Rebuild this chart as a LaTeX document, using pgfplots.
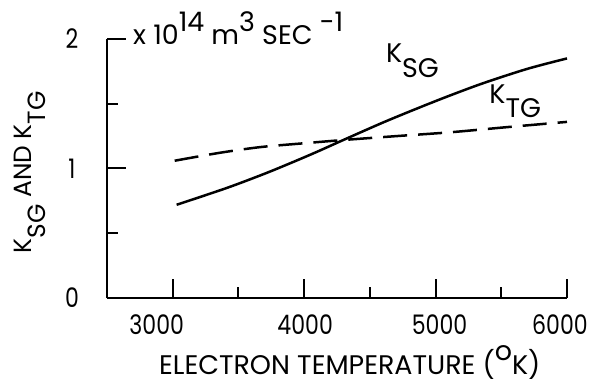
\documentclass[border=0pt]{standalone}
\usepackage{fontspec}
\setmainfont{Poppins}
\newcommand{\tickfont}{\addfontfeature{FakeStretch=0.82}}
\usepackage{pgfplots}
\pgfplotsset{compat=1.18}
\newcommand{\sub}[1]{\raisebox{-0.55em}{#1}}
\newcommand{\sups}[1]{\raisebox{0.5em}{#1}}
\newcommand{\tl}[2]{\tickfont\kern#1bp #2\kern-#1bp}
\begin{document}
\fontsize{27}{32}\selectfont
\begin{tikzpicture}
\useasboundingbox (-107bp,-87bp) rectangle (485bp,298bp);
\begin{axis}[
 at={(0,0)}, anchor=south west,
 width=460bp, height=259bp, scale only axis,
 xmin=2500, xmax=6000, ymin=0, ymax=2,
 axis x line=bottom, axis y line=left,
 axis line style={-, line width=2.5bp},
 xtick={3000,4000,5000,6000}, minor xtick={3500,4500,5500},
 ytick={0,1,2}, minor ytick={0.5,1.5},
 xticklabels={\tl{-16}{3000},\tl{1}{4000},\tl{4}{5000},\tl{-7}{6000}},
 yticklabels={\tickfont 0,\tickfont 1,\tickfont 2},
 tick align=inside,
 major tick length=19bp, minor tick length=11bp,
 tick style={line width=2bp, black},
 xticklabel style={anchor=center, yshift=-27bp},
 yticklabel style={anchor=center, xshift=-35bp},
 clip=false,
]
\addplot[black, line width=2.5bp, smooth] coordinates {
 (3030,0.72) (3412,0.85) (3700,0.96) (3916,1.05) (4100,1.13) (4298,1.22)
 (4600,1.355) (4863,1.465) (5100,1.56) (5366,1.66) (5700,1.77) (6000,1.85)};
\addplot[black, line width=2.5bp, smooth, dash pattern=on 24bp off 11bp] coordinates {
 (3015,1.06) (3350,1.12) (3664,1.165) (4000,1.195) (4298,1.22) (4700,1.25)
 (5115,1.28) (5550,1.32) (6000,1.36)};
\node[anchor=base west, inner sep=0pt] at (axis cs:4622,1.82) {K\sub{SG}};
\node[anchor=base west, inner sep=0pt] at (axis cs:5408,1.505) {K\sub{TG}};
\node[anchor=base west, inner sep=0pt] at (axis cs:2698,1.954) {x 10\sups{14} m\sups{3} SEC \sups{-1}};
\node[anchor=base, inner sep=0pt] at (axis cs:4347,-0.59) {ELECTRON TEMPERATURE (\sups{o}K)};
\node[anchor=base, inner sep=0pt, rotate=90, font=\fontsize{25}{30}\selectfont] at (axis cs:1927,0.97) {K\sub{SG} AND K\sub{TG}};
\end{axis}
\end{tikzpicture}
\end{document}
